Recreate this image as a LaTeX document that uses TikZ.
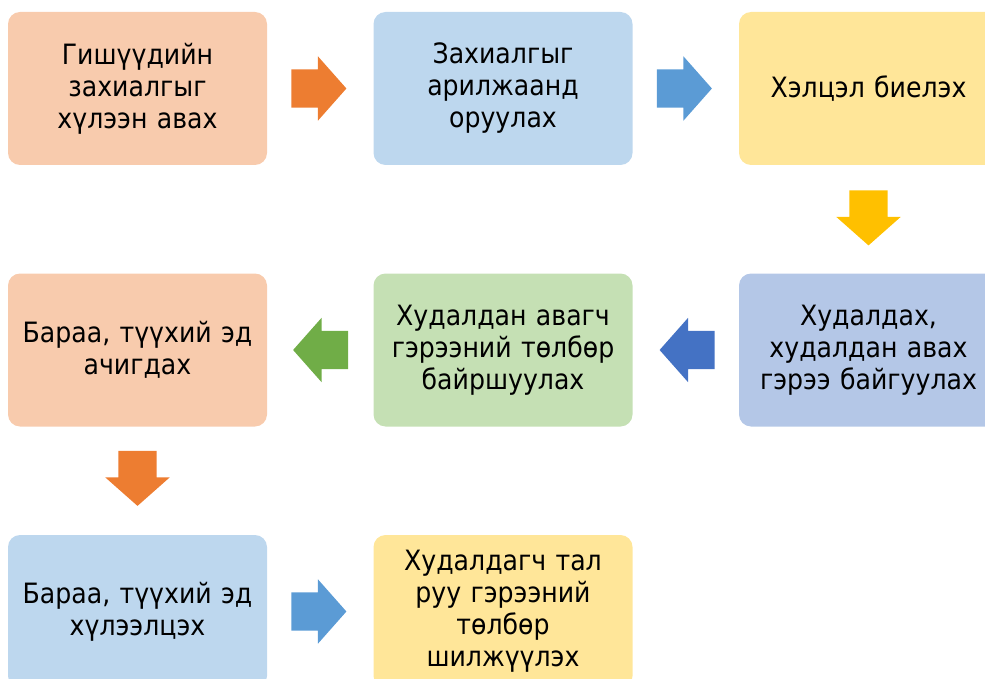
\documentclass[tikz,border=0pt]{standalone}
\usepackage{fontspec}
\newfontfamily\boxfont[FakeStretch=0.9]{DejaVu Sans}
\definecolor{offOrange}{HTML}{ED7D31}
\definecolor{offOrangeL}{HTML}{F8CBAD}
\definecolor{offBlue}{HTML}{5B9BD5}
\definecolor{offBlueL}{HTML}{BDD7EE}
\definecolor{offGold}{HTML}{FFC000}
\definecolor{offGoldL}{HTML}{FFE699}
\definecolor{offNavy}{HTML}{4472C4}
\definecolor{offNavyL}{HTML}{B4C7E7}
\definecolor{offGreen}{HTML}{70AD47}
\definecolor{offGreenL}{HTML}{C5E0B4}
\usetikzlibrary{positioning, calc, shapes.arrows}

\begin{document}
\begin{tikzpicture}[
    x=1pt, y=-1pt,
    stepbox/.style={rectangle, rounded corners=12pt,
                    minimum width=259pt, minimum height=153pt,
                    align=center, text width=240pt,
                    font=\boxfont\fontsize{28}{32}\selectfont},
    flow/.style={single arrow, draw=none, inner xsep=0pt, inner ysep=19pt,
                 single arrow head extend=13pt, single arrow tip angle=97,
                 single arrow head indent=0pt, minimum height=55pt},
  ]
    \path[use as bounding box, clip] (0,0) rectangle (985,679);

    % row 1
    \node[stepbox, fill=offOrangeL] (B1) at (137.5,88.5) {Гишүүдийн\\захиалгыг\\хүлээн авах};
    \node[stepbox, fill=offBlueL] (B2) at (503,88.5) {Захиалгыг\\арилжаанд\\оруулах};
    \node[stepbox, fill=offGoldL] (B3) at (868.5,88.5) {Хэлцэл биелэх};

    % row 2
    \node[stepbox, fill=offNavyL] (B4) at (868.5,350) {Худалдах,\\худалдан авах\\гэрээ байгуулах};
    \node[stepbox, fill=offGreenL] (B5) at (503,350) {Худалдан авагч\\гэрээний төлбөр\\байршуулах};
    \node[stepbox, fill=offOrangeL] (B6) at (137.5,350) {Бараа, түүхий эд\\ачигдах};

    % row 3
    \node[stepbox, fill=offBlueL] (B7) at (137.5,611.5) {Бараа, түүхий эд\\хүлээлцэх};
    \node[stepbox, fill=offGoldL] (B8) at (503,611.5) {Худалдагч тал\\руу гэрээний\\төлбөр\\шилжүүлэх};

    % block arrows
    \node[flow, fill=offOrange, right=24pt of B1.east, anchor=tail] (A1) {};
    \node[flow, fill=offBlue, right=24pt of B2.east, anchor=tail] (A2) {};
    \node[flow, fill=offGold, rotate=-90, below=25pt of B3.south, anchor=tail] (A3) {};
    \node[flow, fill=offNavy, rotate=180, left=24pt of B4.west, anchor=tail] (A4) {};
    \node[flow, fill=offGreen, rotate=180, left=25pt of B5.west, anchor=tail] (A5) {};
    \node[flow, fill=offOrange, rotate=-90, below=24pt of B6.south, anchor=tail] (A6) {};
    \node[flow, fill=offBlue, right=24pt of B7.east, anchor=tail] (A7) {};
\end{tikzpicture}
\end{document}
